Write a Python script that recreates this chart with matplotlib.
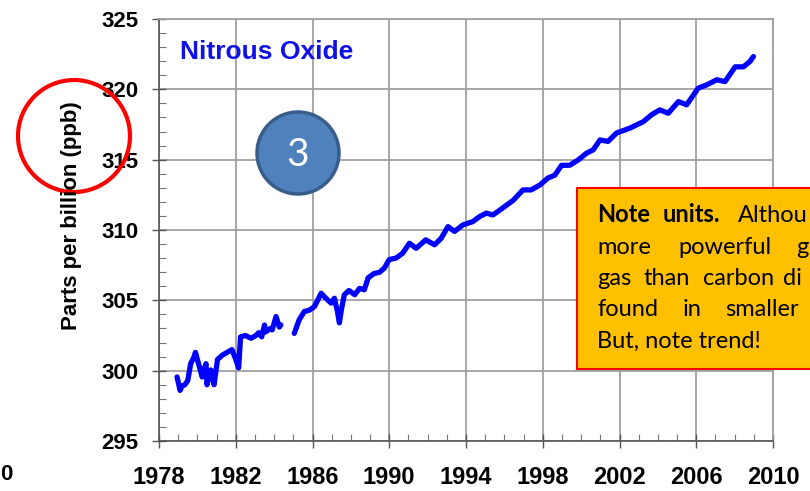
import numpy as np
import matplotlib
matplotlib.use("Agg")
import matplotlib.pyplot as plt
from matplotlib.patches import Circle, Rectangle

# ============================================================
# Data
# ============================================================
# early record, before the gap in 1984/85
early_years = [1978.94, 1979.1, 1979.2, 1979.35, 1979.5, 1979.65, 1979.8, 1979.9,
               1980.1, 1980.25, 1980.35, 1980.45, 1980.5, 1980.6, 1980.7, 1980.8,
               1980.87, 1981.05, 1981.3, 1981.55, 1981.8, 1982.0, 1982.15, 1982.25,
               1982.5, 1982.8, 1983.05, 1983.2, 1983.35, 1983.5, 1983.55, 1983.8,
               1983.9, 1984.1, 1984.27, 1984.35]
early_ppb = [299.55, 298.6, 298.9, 299.0, 299.3, 300.5, 300.9, 301.3,
             300.3, 299.55, 300.1, 300.5, 299.0, 299.6, 300.05, 299.4,
             299.0, 300.8, 301.1, 301.3, 301.5, 300.8, 300.2, 302.4,
             302.5, 302.3, 302.5, 302.7, 302.4, 303.25, 302.75, 303.0,
             302.9, 303.85, 303.1, 303.25]

main_years = [1985.05, 1985.3, 1985.57, 1985.83, 1986.1, 1986.45, 1986.7, 1986.97,
              1987.14, 1987.3, 1987.4, 1987.5, 1987.66, 1987.9, 1988.2, 1988.45,
              1988.7, 1988.9, 1989.2, 1989.5, 1989.75, 1990.0, 1990.35, 1990.7,
              1991.05, 1991.4, 1991.9, 1992.36, 1992.7, 1993.06, 1993.4, 1993.84,
              1994.36, 1994.7, 1995.06, 1995.4, 1995.75, 1996.1, 1996.45, 1996.97,
              1997.4, 1997.85, 1998.28, 1998.63, 1998.98, 1999.4, 1999.85, 2000.28,
              2000.63, 2000.98, 2001.4, 2001.85, 2002.2, 2002.54, 2003.24, 2003.68,
              2004.1, 2004.54, 2005.07, 2005.5, 2006.1, 2006.55, 2007.07, 2007.5,
              2008.03, 2008.46, 2008.8, 2008.98]
main_ppb = [302.65, 303.6, 304.2, 304.3, 304.55, 305.5, 305.15, 304.8,
            305.15, 304.2, 303.4, 304.3, 305.4, 305.7, 305.4, 305.85,
            305.75, 306.6, 306.9, 307.0, 307.3, 307.9, 308.0, 308.35,
            309.06, 308.7, 309.3, 308.95, 309.4, 310.24, 309.9, 310.36,
            310.6, 310.95, 311.2, 311.07, 311.4, 311.75, 312.1, 312.85,
            312.85, 313.2, 313.7, 313.9, 314.6, 314.6, 314.98, 315.46,
            315.7, 316.4, 316.3, 316.9, 317.07, 317.24, 317.7, 318.2,
            318.54, 318.3, 319.13, 318.9, 320.08, 320.32, 320.68, 320.55,
            321.6, 321.6, 321.98, 322.33]

x_ticks = list(range(1978, 2011, 4))
y_ticks = list(range(295, 326, 5))

# note text as it is visible in the reference (runs off the right edge there)
note_lines = [
    ["Note", "units.", "Althou"],
    ["more", "powerful", "g"],
    ["gas", "than", "carbon", "di"],
    ["found", "in", "smaller"],
    ["But, note trend!"],
]

# ============================================================
# Figure
# ============================================================
W, H = 810, 491
fig = plt.figure(figsize=(W / 100, H / 100), dpi=100)
fig.patch.set_facecolor("white")

ax = fig.add_axes([159 / W, 1 - 441 / H, (773 - 159) / W, (441 - 19) / H])
line_kw = dict(color="#0000ff", linewidth=3.8, solid_capstyle="round", solid_joinstyle="round")
ax.plot(early_years, early_ppb, **line_kw)
ax.plot(main_years, main_ppb, **line_kw)

ax.set_xlim(1978, 2010)
ax.set_ylim(295, 325)
ax.set_xticks(x_ticks)
ax.set_yticks(y_ticks)
ax.set_xticks(range(1978, 2011), minor=True)
ax.set_yticks(range(295, 326), minor=True)
ax.grid(True, which="major", color="#a0a0a0", linewidth=1.3)
ax.set_axisbelow(True)

ax.set_xticklabels([str(t) for t in x_ticks], family="Liberation Sans", weight="bold", size=17)
ax.set_yticklabels([str(t) for t in y_ticks], family="Liberation Sans", weight="bold", size=16)
ax.tick_params(which="major", direction="inout", length=10, width=1, color="#555555")
ax.tick_params(axis="x", which="major", pad=13)
ax.tick_params(axis="y", which="major", pad=10)
ax.tick_params(which="minor", direction="in", length=5, width=0.8, color="#777777")
for side in ["left", "bottom"]:
    ax.spines[side].set_color("#555555")
    ax.spines[side].set_linewidth(1.2)
for side in ["top", "right"]:
    ax.spines[side].set_color("#a0a0a0")
    ax.spines[side].set_linewidth(1.3)

# ============================================================
# Overlay in pixel coordinates: labels, callouts
# ============================================================
ov = fig.add_axes([0, 0, 1, 1], facecolor="none")
ov.set_xlim(0, W)
ov.set_ylim(H, 0)
ov.set_axis_off()

ov.text(180, 52, "Nitrous Oxide", color="#1010e8", fontsize=19, fontweight="bold",
        family="Liberation Sans", ha="left", va="center")
ov.text(71, 216, "Parts per billion (ppb)", rotation=90, fontsize=16, fontweight="bold",
        family="Liberation Sans", ha="center", va="center")
ov.text(0, 474, "0", fontsize=16, fontweight="bold", family="Liberation Sans",
        ha="left", va="center")

# numbered bubble
ov.add_patch(Circle((298, 153), 41, facecolor="#4f81bd", edgecolor="#385d8a", linewidth=2.5))
ov.text(298, 155, "3", color="white", fontsize=28, family="Lato", ha="center", va="center")

# red highlight ring
ov.add_patch(Circle((74, 136), 56, facecolor="none", edgecolor="#ff0000", linewidth=3))

# note box
ov.add_patch(Rectangle((577, 188), 300, 181, facecolor="#ffc000", edgecolor="#ff0000", linewidth=1.5))
word_x = [
    [597, 663, 738],
    [597, 678, 796],
    [597, 643, 703, 783],
    [597, 683, 725],
    [597],
]
baselines = [222, 253.5, 285, 316.5, 348]
for li, (words, xs, yb) in enumerate(zip(note_lines, word_x, baselines)):
    for i, (w, x) in enumerate(zip(words, xs)):
        bold = (li == 0 and i < 2)
        ov.text(x, yb, w, fontsize=17, family="Lato", fontweight="bold" if bold else "normal",
                ha="left", va="baseline", color="black")

fig.savefig("out.png", dpi=100)
